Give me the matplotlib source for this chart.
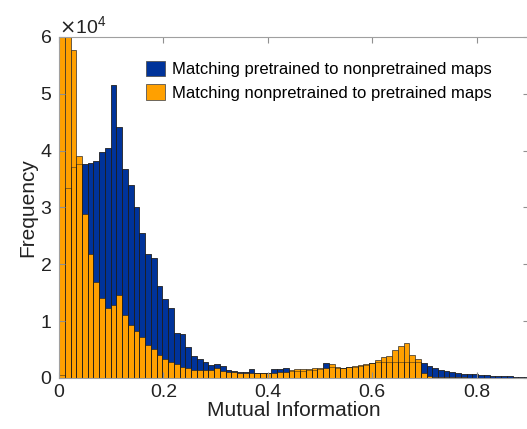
"""Mutual information histograms: pretrained vs nonpretrained map matching."""
import matplotlib
matplotlib.use("Agg")
import matplotlib.pyplot as plt
import numpy as np
from matplotlib.patches import Patch

plt.rcParams["font.family"] = ["Liberation Sans", "DejaVu Sans"]

bin_width = 0.011

# counts per bin (bins start at 0)
pre_to_nonpre = [
    500, 33400, 37200, 37600, 37600, 37800, 38200, 39700, 40400, 51500,
    44100, 36800, 33900, 30000, 25500, 21900, 21200, 16100, 13900, 12400,
    7900, 7800, 5500, 3900, 3300, 2760, 2290, 2520, 2170, 1400,
    1230, 1060, 1000, 1530, 950, 900, 950, 1500, 1500, 1700,
    1300, 1250, 1300, 1350, 1400, 1500, 2580, 1900, 1750, 1800,
    1900, 2000, 2150, 2300, 2600, 2750, 2800, 2850, 2850, 2850,
    2850, 2850, 2800, 2580, 2110, 1700, 1410, 1170, 1000, 880,
    760, 700, 640, 530, 470, 410, 350, 290, 290, 230,
    180, 150,
]
nonpre_to_pre = [
    70000, 66000, 57700, 39000, 28800, 21800, 16900, 14000, 12400, 12800,
    14600, 11000, 9400, 8300, 7200, 5800, 5050, 4050, 3340, 2820,
    2460, 1940, 1700, 1400, 1350, 1350, 1400, 1820, 1290, 1100,
    1000, 940, 940, 900, 850, 880, 900, 950, 1000, 1050,
    1450, 1500, 1550, 1600, 1700, 1750, 1800, 2390, 1950, 1820,
    1990, 2110, 2230, 2460, 2700, 3170, 3640, 3870, 4930, 5630,
    6100, 4050, 3290, 800, 350, 230, 170, 170, 150, 130,
    100, 80, 60, 50, 40, 30, 25, 20, 15, 10,
    10, 5,
]
labels = ["Matching pretrained to nonpretrained maps",
          "Matching nonpretrained to pretrained maps"]
blue = "#00339a"
orange = "#ffa000"

lefts = np.arange(len(pre_to_nonpre)) * bin_width

fig = plt.figure(figsize=(5.27, 4.29), dpi=100)
ax = fig.add_axes([0.112, 0.1189, 0.8915, 0.7949])

edge = (0.15, 0.15, 0.15, 0.8)
ax.bar(lefts, pre_to_nonpre, width=bin_width, align="edge",
       color=blue, edgecolor=edge, linewidth=0.6)
ax.bar(lefts, nonpre_to_pre, width=bin_width, align="edge",
       color=orange, edgecolor=edge, linewidth=0.6)
# blue bar outlines show through the orange bars
ax.bar(lefts, pre_to_nonpre, width=bin_width, align="edge",
       fill=False, edgecolor=(0.1, 0.1, 0.1, 0.55), linewidth=0.6)

ax.set_xlim(0, 0.9)
ax.set_ylim(0, 60000)
ax.set_xticks([0, 0.2, 0.4, 0.6, 0.8])
ax.set_xticklabels(["0", "0.2", "0.4", "0.6", "0.8"])
ax.set_yticks(np.arange(0, 60001, 10000))
ax.ticklabel_format(axis="y", style="sci", scilimits=(4, 4), useMathText=True)
off = ax.yaxis.get_offset_text()
off.set_fontsize(14)
off.set_color("#222222")
off.set_y(1.02)

for s in ax.spines.values():
    s.set_color("#a0a0a0")
    s.set_linewidth(0.8)
ax.tick_params(direction="in", length=4, width=0.8, color="#909090",
               labelsize=14, labelcolor="#222222", top=True, right=True,
               pad=4)
ax.tick_params(axis="y", pad=5)

ax.set_xlabel("Mutual Information", fontsize=15, color="#222222", labelpad=0)
ax.set_ylabel("Frequency", fontsize=15, color="#222222", labelpad=2)

handles = [Patch(facecolor=blue, edgecolor="#555555", linewidth=0.6),
           Patch(facecolor=orange, edgecolor="#555555", linewidth=0.6)]
fig.legend(handles, labels, loc="upper left",
           bbox_to_anchor=(0.2765, 0.858), frameon=False, fontsize=12,
           handlelength=1.15, handleheight=1.05, handletextpad=0.4,
           labelspacing=0.42, borderpad=0, borderaxespad=0)

fig.savefig("out.png", dpi=100)
plt.close(fig)
